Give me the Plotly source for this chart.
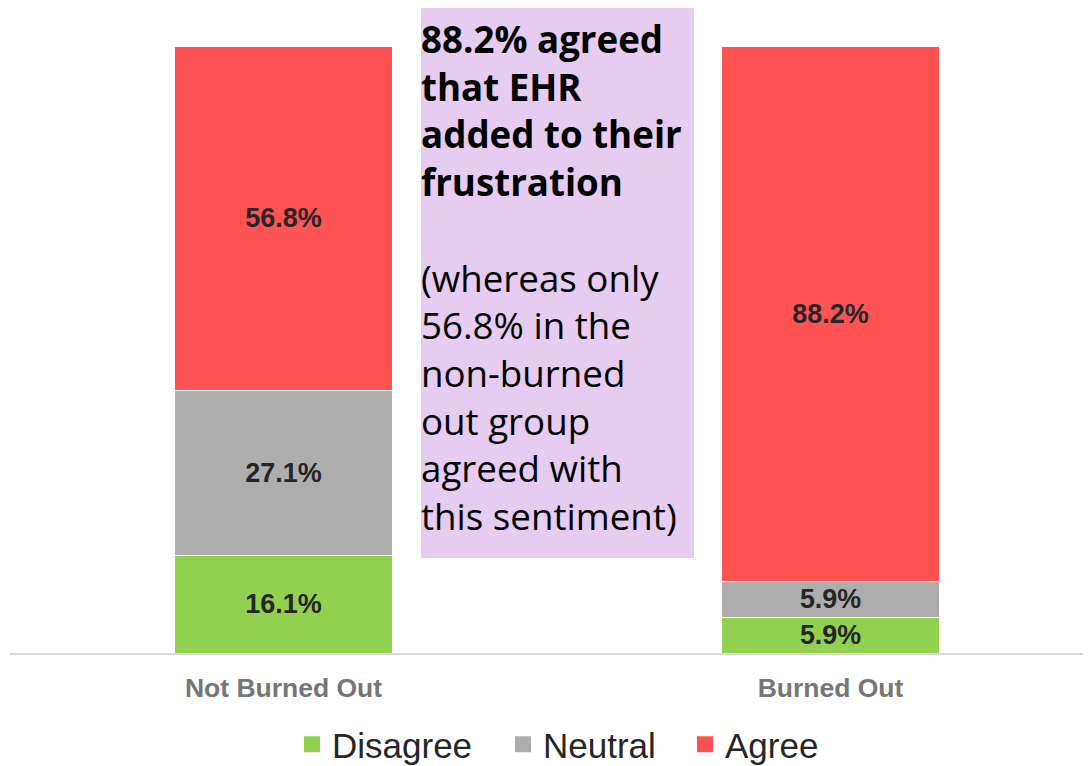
import plotly.graph_objects as go

categories = ["Not Burned Out", "Burned Out"]
disagree = [16.1, 5.9]
neutral = [27.1, 5.9]
agree = [56.8, 88.2]
series_names = ["Disagree", "Neutral", "Agree"]
colors = ["#92D050", "#ADADAD", "#FF5353"]

# page has an 8px body margin; plot area on page: x 10..1099, y 46..653
PL, PW, PB, PH = 10, 1089, 653, 607
def px(x):
    return (x - PL) / PW
def py(y):
    return (PB - y) / PH

legend_ids = ["legend", "legend2", "legend3"]
legend_left = [292, 503, 685]

fig = go.Figure()
for name, vals, col, lid in zip(series_names, [disagree, neutral, agree], colors, legend_ids):
    fig.add_trace(go.Bar(
        x=categories, y=vals, name=name,
        marker=dict(color=col, line=dict(color="white", width=1)),
        width=0.4,
        text=[f"{v:.1f}%" for v in vals],
        textposition="inside", insidetextanchor="middle",
        textfont=dict(family="Liberation Sans", size=27, color="#262626"),
        texttemplate="<b>%{text}</b>",
        showlegend=False, hoverinfo="skip",
    ))
    fig.add_trace(go.Scatter(
        x=[None], y=[None], mode="markers", name=name,
        marker=dict(symbol="square", size=19, color=col),
        showlegend=True, legend=lid,
    ))

fig.add_shape(type="rect", xref="paper", yref="paper",
              x0=px(421), x1=px(694), y0=py(558), y1=py(8),
              fillcolor="#E6CCF0", line=dict(width=0), layer="below")

note = ("<b>88.2% agreed<br>that EHR<br>added to their<br>frustration</b><br><br>"
        "(whereas only<br>56.8% in the<br>non-burned<br>out group<br>agreed with<br>this sentiment)")
fig.add_annotation(xref="paper", yref="paper", x=px(420), y=py(13),
                   xanchor="left", yanchor="top",
                   text=note, showarrow=False, align="left", borderpad=0,
                   font=dict(family="Open Sans", size=36.7, color="#000000"))

leg_common = dict(orientation="h", xanchor="left", yref="container", y=0.0,
                  yanchor="bottom", bgcolor="rgba(0,0,0,0)",
                  font=dict(family="Liberation Sans", size=35, color="#262626"))
layout_legends = {lid: dict(x=px(lx), **leg_common) for lid, lx in zip(legend_ids, legend_left)}

fig.update_layout(
    width=1091, height=766,
    margin=dict(l=2, r=0, t=38, b=121, autoexpand=False),
    plot_bgcolor="white", paper_bgcolor="white",
    barmode="stack",
    xaxis=dict(range=[-0.5, -0.5 + PW / 547], showline=True, linecolor="#D9D9D9", linewidth=2,
               ticks="", showgrid=False, fixedrange=True, automargin=False,
               ticklabelstandoff=10,
               tickfont=dict(family="Liberation Sans", size=26.5, color="#767676"),
               tickprefix="<b>", ticksuffix="</b>"),
    yaxis=dict(range=[0, 100], visible=False, showgrid=False, automargin=False),
    **layout_legends,
)

fig.write_html("out.html")
